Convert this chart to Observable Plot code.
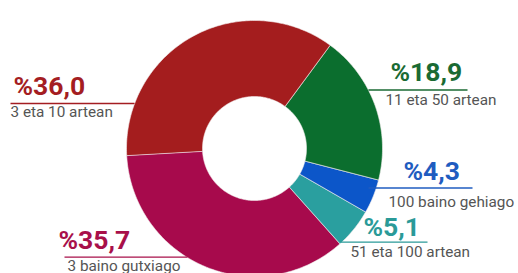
<!DOCTYPE html>
<html><head><meta charset="utf-8">
<script src="https://cdn.jsdelivr.net/npm/d3@7"></script>
<script src="https://cdn.jsdelivr.net/npm/@observablehq/plot@0.6"></script>
<style>
html,body{margin:0;padding:0;background:#fff;}
svg{display:block;font-family:Roboto,sans-serif;}
</style></head>
<body><div id="chart"></div>
<script>
// Data
const categories = ["3 eta 10 artean", "11 eta 50 artean", "100 baino gehiago", "51 eta 100 artean", "3 baino gutxiago"];
const values = [36.0, 18.9, 4.3, 5.1, 35.7];
const valueLabels = ["%36,0", "%18,9", "%4,3", "%5,1", "%35,7"];
const sliceColors = ["#a41d1e", "#0b6e2e", "#0c56c9", "#2a9f9f", "#a70a4c"];
const textColors = ["#a41d22", "#1a6a33", "#1f5cc0", "#2a9a98", "#a8104a"];

// Layout
const W = 518, H = 273;
const cx = 254, cy = 148, rOuter = 128, rInner = 52;
const startAngle = -93.2 * Math.PI / 180;
// label placement: [textX, textBaseline, lineY, lineX1, lineX2, subX, subBaseline]
const place = [
  [13, 94, 103, 10, 134, 10, 116],
  [390, 80, 89.5, 368, 467, 385, 104],
  [403, 179, 187.5, 368, 472, 388, 206],
  [363, 235, 241.7, 340, 427, 350, 256],
  [58, 248, 256.7, 64, 187, 67, 270]
];

const pie = d3.pie().sort(null).startAngle(startAngle).endAngle(startAngle + 2 * Math.PI)(values);
const pts = [];
pie.forEach((s, i) => {
  const n = Math.max(8, Math.ceil((s.endAngle - s.startAngle) * 60));
  for (let k = 0; k <= n; k++) {
    const a = s.startAngle + (s.endAngle - s.startAngle) * k / n;
    pts.push({cat: categories[i], x: cx + rOuter * Math.sin(a), y: cy - rOuter * Math.cos(a)});
  }
  for (let k = n; k >= 0; k--) {
    const a = s.startAngle + (s.endAngle - s.startAngle) * k / n;
    pts.push({cat: categories[i], x: cx + rInner * Math.sin(a), y: cy - rInner * Math.cos(a)});
  }
});

const labels = categories.map((c, i) => ({
  cat: c, pct: valueLabels[i], color: textColors[i],
  tx: place[i][0], ty: place[i][1], ly: place[i][2], lx1: place[i][3], lx2: place[i][4],
  sx: place[i][5], sy: place[i][6]
}));

const chart = Plot.plot({
  width: W, height: H,
  margin: 0,
  x: {domain: [0, W], range: [0, W], axis: null},
  y: {domain: [0, H], range: [0, H], axis: null},
  color: {domain: categories, range: sliceColors},
  style: {fontFamily: "Roboto, sans-serif", background: "#fff"},
  marks: [
    Plot.line(pts, {x: "x", y: "y", z: "cat", fill: "cat", stroke: "#f4eeee", strokeWidth: 0.6, curve: "linear-closed"}),
    Plot.link(labels, {x1: "lx1", x2: "lx2", y1: "ly", y2: "ly", stroke: d => d.color, strokeWidth: 1.3}),
    Plot.text(labels, {x: "tx", y: "ty", text: "pct", fill: d => d.color, textAnchor: "start", lineAnchor: "bottom", fontSize: 26.5, fontWeight: 700}),
    Plot.text(labels, {x: "sx", y: "sy", text: "cat", fill: "#555", textAnchor: "start", lineAnchor: "bottom", fontSize: 15.3})
  ]
});
document.getElementById("chart").appendChild(chart);
</script>
</body></html>
